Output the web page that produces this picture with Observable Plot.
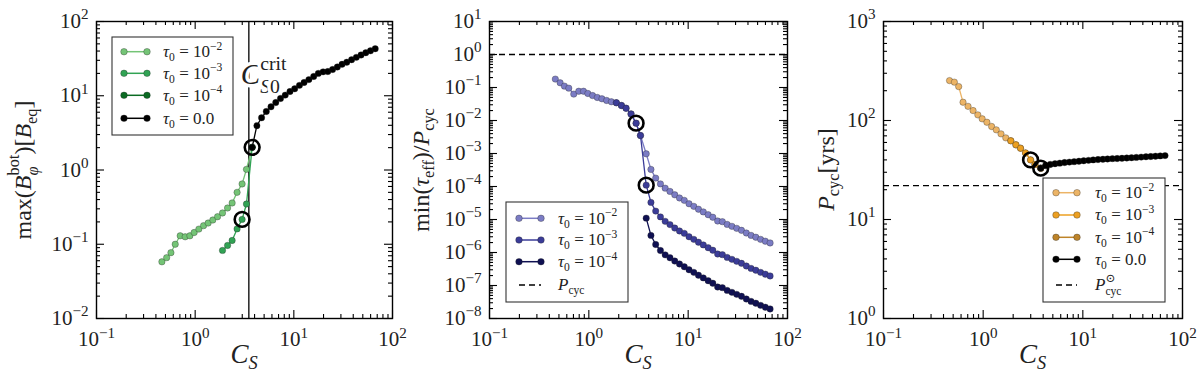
<!DOCTYPE html>
<html><head><meta charset="utf-8">
<script src="https://cdn.jsdelivr.net/npm/d3@7"></script>
<script src="https://cdn.jsdelivr.net/npm/@observablehq/plot@0.6"></script>
<style>
body{margin:0;background:#fff;}
#wrap{position:relative;width:1200px;height:380px;overflow:hidden;background:#fff;}
#wrap svg{position:absolute;top:0;}
text, tspan{white-space:pre;}
</style></head><body><div id="wrap"></div>
<script>
// ---------- data ----------
const cs = [0.46, 0.514, 0.568, 0.628, 0.705, 0.792, 0.884, 0.977, 1.09, 1.216, 1.354, 1.51, 1.686, 1.893, 2.13, 2.37, 2.66, 2.99, 3.31, 3.78,
  4.22, 4.71, 5.26, 5.87, 6.56, 7.33, 8.18, 9.14, 10.2, 11.4, 12.7, 14.2, 15.9, 17.7, 19.8, 22.1, 24.7, 27.6, 30.8, 34.4, 38.5, 43.0, 48.0, 53.6, 59.8, 66.8];
const csCrit = 3.5;
const circled = [17, 19];

// panel 1: max(B_phi^bot) [B_eq]
const bTau2 = [0.058, 0.066, 0.077, 0.100, 0.130, 0.126, 0.130, 0.144, 0.160, 0.178, 0.193, 0.212, 0.235, 0.264, 0.308, 0.360, 0.500, 0.649, 1.02, 2.02];
const bTau3 = [...Array(13).fill(null), 0.0826, 0.0964, 0.1125, 0.161, 0.216, 0.348, 2.02];
const bTau4 = [...Array(19).fill(null), 2.02];
const bTau0 = [...Array(19).fill(null), 2.02, 3.95, 5.05, 6.15, 7.1, 8.1, 9.2, 10.2, 11.4, 12.4, 13.8, 15.1, 16.5, 18.2, 20.0, 21.0, 21.2, 22.6, 24.4, 26.5, 28.3, 30.6, 32.9, 35.4, 38.0, 40.3, 43.0];

// panel 2: min(tau_eff)/P_cyc
const tTau2 = [0.18, 0.139, 0.11, 0.0955, 0.063, 0.077, 0.077, 0.066, 0.057, 0.050, 0.0455, 0.0405, 0.037, 0.0345, 0.0285, 0.0236, 0.0158, 0.0083, 0.0035, 0.00098,
  3.3e-4, 1.8e-4, 1.2e-4, 8.9e-5, 7.1e-5, 5.6e-5, 4.5e-5, 3.8e-5, 3.0e-5, 2.5e-5, 2.05e-5, 1.7e-5, 1.4e-5, 1.17e-5, 9.0e-6, 8.6e-6, 7.1e-6, 6.2e-6, 5.4e-6, 4.7e-6, 3.9e-6, 3.3e-6, 2.9e-6, 2.5e-6, 2.2e-6, 1.95e-6];
const tTau3 = [...Array(13).fill(null), 0.0345, 0.0285, 0.0236, 0.0158, 0.0083, 0.0035, 1.1e-4,
  3.3e-5, 1.8e-5, 1.2e-5, 8.8e-6, 7.0e-6, 5.5e-6, 4.5e-6, 3.8e-6, 3.0e-6, 2.5e-6, 2.05e-6, 1.7e-6, 1.4e-6, 1.17e-6, 9.0e-7, 8.6e-7, 7.1e-7, 6.2e-7, 5.4e-7, 4.7e-7, 3.9e-7, 3.3e-7, 2.9e-7, 2.5e-7, 2.2e-7, 1.95e-7];
const tTau4 = [...Array(19).fill(null), 1.1e-5,
  3.3e-6, 1.75e-6, 1.15e-6, 8.5e-7, 6.9e-7, 5.5e-7, 4.5e-7, 3.7e-7, 3.0e-7, 2.5e-7, 2.05e-7, 1.7e-7, 1.4e-7, 1.17e-7, 9.0e-8, 8.6e-8, 7.1e-8, 6.2e-8, 5.4e-8, 4.7e-8, 3.9e-8, 3.3e-8, 2.9e-8, 2.5e-8, 2.2e-8, 1.95e-8];
const pcycRatio = 1;

// panel 3: P_cyc [yrs]
const pTau2 = [253, 244, 220, 153, 139, 126, 114, 104, 96, 87, 80.5, 73.3, 66.8, 62.4, 56.8, 52.5, 47, 40, 36, 33];
const pTau3 = [...Array(13).fill(null), 62.4, 56.8, 52.5, 47, 40, 36, 33];
const pTau4 = [...Array(19).fill(null), 33];
const pTau0 = [...Array(19).fill(null), 33.0, 35.0, 36.0, 36.6, 37.1, 37.6, 38.0, 38.4, 38.8, 39.2, 39.6, 40.0, 40.3, 40.6, 40.9, 41.2, 41.3, 41.5, 41.8, 42.1, 42.4, 42.7, 43.0, 43.3, 43.6, 43.9, 44.2];
const pcycSun = 22;

const tauExps = ["−2", "−3", "−4"];
const greens = ["#74c476", "#31a354", "#0b6b23"];
const blues = ["#7b7cc4", "#3b3c98", "#0f1052"];
const oranges = ["#ecb466", "#eca022", "#be8429"];

const xMajor = [0.1, 1, 10, 100];
const y1Major = [0.01, 0.1, 1, 10, 100];
const y2Major = [1e-8, 1e-7, 1e-6, 1e-5, 1e-4, 1e-3, 1e-2, 1e-1, 1, 10];
const y3Major = [1, 10, 100, 1000];

// ---------- helpers ----------
const ns = "http://www.w3.org/2000/svg";
const FONT = "'Liberation Serif', 'DejaVu Serif', serif";
const NB = "\u00a0";
const minorOf = maj => { const out = []; for (let i = 0; i < maj.length - 1; i++) for (let k = 2; k <= 9; k++) out.push(maj[i] * k); return out; };
const fmt = d => "10^" + Math.round(Math.log10(d));

function richText(el, segs, fs, supScale = 0.68) {
  el.textContent = "";
  let level = 0, supW = 0, stackW = null;
  segs.forEach(([t, m = ""], idx) => {
    const next = segs[idx + 1];
    const stackedSup = m.includes("u") && next && (next[1] || "").includes("k");
    const small = /[udk]/.test(m);
    let target = 0;
    if (m.includes("u")) target = stackedSup ? -0.5 : -0.42;
    else if (m.includes("k") || (m.includes("d") && stackW !== null)) target = 0.3;
    else if (m.includes("d")) target = 0.24;
    const ts = document.createElementNS(ns, "tspan");
    ts.textContent = t;
    ts.setAttribute("font-size", ((small ? supScale : 1) * fs).toFixed(2));
    ts.setAttribute("font-style", m.includes("i") ? "italic" : "normal");
    const dy = (target - level) * fs;
    if (Math.abs(dy) > 1e-6) ts.setAttribute("dy", dy.toFixed(2));
    level = target;
    let dx = 0;
    if (m.includes("k")) dx = -supW;
    else if (stackW !== null && !m.includes("d")) { dx = Math.max(0, supW - stackW); stackW = null; }
    if (dx !== 0) ts.setAttribute("dx", dx.toFixed(2));
    el.appendChild(ts);
    const w = ts.getComputedTextLength();
    if (m.includes("u")) supW = w;
    if (m.includes("k")) stackW = w;
    else if (m.includes("d") && stackW !== null) stackW += w;
  });
}
// move a text so that its on-screen box is centred on (cx, cy) in svg pixels (null keeps that axis)
function placeCenter(svg, el, cx, cy) {
  const r = el.getBoundingClientRect(), s = svg.getBoundingClientRect();
  const dx = cx == null ? 0 : cx - (r.left + r.width / 2 - s.left);
  const dy = cy == null ? 0 : cy - (r.top + r.height / 2 - s.top);
  el.setAttribute("transform", `translate(${dx.toFixed(2)},${dy.toFixed(2)}) ` + (el.getAttribute("transform") || ""));
}
function replaceText(svg, content, segs, fs, cx, cy) {
  svg.querySelectorAll("text").forEach(t => {
    if (t.textContent === content) { richText(t, segs, fs); if (cx != null || cy != null) placeCenter(svg, t, cx, cy); }
  });
}

function series(ys, color) {
  const data = cs.map((x, i) => ({x, y: ys[i]})).filter(d => d.y != null);
  return [
    Plot.line(data, {x: "x", y: "y", stroke: color, strokeWidth: 1.3}),
    Plot.dot(data, {x: "x", y: "y", r: 3.2, fill: color, stroke: "#222", strokeOpacity: 0.55, strokeWidth: 0.6})
  ];
}
function rings(pts) {
  return Plot.dot(pts, {x: "x", y: "y", r: 7.4, fill: "none", stroke: "black", strokeWidth: 2.6});
}

const FH = 297, MT = 21, MB = 62;
function frameMarks(yMaj, fw) {
  const xMin = minorOf(xMajor), yMin = minorOf(yMaj);
  const o = {strokeWidth: 1.1, stroke: "black"};
  return [
    Plot.ruleX(xMajor, {x: d => d, insetTop: FH - 8, ...o}),
    Plot.ruleX(xMajor, {x: d => d, insetBottom: FH - 8, ...o}),
    Plot.ruleX(xMin, {x: d => d, insetTop: FH - 4, ...o}),
    Plot.ruleX(xMin, {x: d => d, insetBottom: FH - 4, ...o}),
    Plot.ruleY(yMaj, {y: d => d, insetRight: fw - 8, ...o}),
    Plot.ruleY(yMaj, {y: d => d, insetLeft: fw - 8, ...o}),
    Plot.ruleY(yMin, {y: d => d, insetRight: fw - 4, ...o}),
    Plot.ruleY(yMin, {y: d => d, insetLeft: fw - 4, ...o}),
    Plot.axisX({ticks: xMajor, tickSize: 0, tickPadding: 13, tickFormat: fmt, label: null}),
    Plot.axisY({ticks: yMaj, tickSize: 0, tickPadding: 8, tickFormat: fmt, label: null}),
    Plot.frame({stroke: "black", strokeWidth: 1.4})
  ];
}
function titleMarks(ytext) {
  return [
    Plot.text(["XTITLE"], {frameAnchor: "bottom", dy: 44, fontSize: 27, fill: "#222"}),
    Plot.text([ytext], {frameAnchor: "left", dx: -60, rotate: -90, fontSize: 24, fill: "#222"})
  ];
}

const wrap = document.getElementById("wrap");
function mount(plot, left, mL, mR) {
  plot.style.left = left + "px";
  wrap.appendChild(plot);
  const svg = plot.tagName.toLowerCase() === "svg" ? plot : plot.querySelector("svg");
  svg.querySelectorAll("text").forEach(t => {
    const m = t.textContent.match(/^10\^(-?\d+)$/);
    if (m) richText(t, [["10"], [m[1].replace("-", "−"), "u"]], 21, 0.72);
  });
  replaceText(svg, "XTITLE", [["C", "i"], ["S", "di"]], 27, (mL + 400 - mR) / 2, null);
  return svg;
}
function legend(svg, box, rows, sx, tx, items) {
  const g = d3.select(svg).append("g").attr("font-family", FONT).attr("fill", "#222").attr("text-anchor", "start");
  g.append("rect").attr("x", box[0]).attr("y", box[1]).attr("width", box[2]).attr("height", box[3])
    .attr("fill", "white").attr("stroke", "#333").attr("stroke-width", 1.1);
  items.forEach((it, i) => {
    const y = rows[i];
    if (it.dash) {
      g.append("line").attr("x1", sx[0]).attr("x2", sx[1]).attr("y1", y).attr("y2", y)
        .attr("stroke", "black").attr("stroke-width", 1.4).attr("stroke-dasharray", "6,4");
    } else {
      g.append("line").attr("x1", sx[0]).attr("x2", sx[1]).attr("y1", y).attr("y2", y)
        .attr("stroke", it.color).attr("stroke-width", 1.5);
      for (const x of sx) g.append("circle").attr("cx", x).attr("cy", y).attr("r", 3.3)
        .attr("fill", it.color).attr("stroke", "#222").attr("stroke-opacity", 0.55).attr("stroke-width", 0.6);
    }
    const t = g.append("text").attr("x", tx).attr("y", y + 5.2).attr("font-size", 17).attr("text-anchor", "start").node();
    richText(t, it.segs, 17);
  });
}
const tauSegs = e => [["τ", "i"], ["0", "d"], [NB + "=" + NB + "10"], [e, "u"]];
const tau0Segs = [["τ", "i"], ["0", "d"], [NB + "=" + NB + "0.0"]];
const style = {fontFamily: FONT, fontSize: "21px", color: "#222", background: "transparent", overflow: "visible"};
const yMid = MT + FH / 2 + 0.5;

// ---------- panel 1 ----------
{
  const mL = 96, mR = 8, fw = 400 - mL - mR;
  const plot = Plot.plot({
    width: 400, height: 380, marginLeft: mL, marginRight: mR, marginTop: MT, marginBottom: MB, style,
    x: {type: "log", domain: [0.1, 100]},
    y: {type: "log", domain: [0.01, 100]},
    marks: [
      Plot.ruleX([csCrit], {stroke: "black", strokeWidth: 1.3}),
      Plot.text([csCrit], {x: d => d, text: () => "CRITLABEL", frameAnchor: "top", dy: 42, dx: -8, textAnchor: "start", fontSize: 29, fill: "#222", stroke: "white", strokeWidth: 7}),
      ...series(bTau2, greens[0]), ...series(bTau3, greens[1]), ...series(bTau4, greens[2]), ...series(bTau0, "black"),
      rings([{x: cs[circled[0]], y: bTau3[circled[0]]}, {x: cs[circled[1]], y: bTau0[circled[1]]}]),
      ...frameMarks(y1Major, fw),
      ...titleMarks("YTITLE1")
    ]
  });
  const svg = mount(plot, 0, mL, mR);
  replaceText(svg, "YTITLE1", [["max("], ["B", "i"], ["bot", "u"], ["φ", "ki"], [")["], ["B", "i"], ["eq", "d"], ["]"]], 24, 23, yMid);
  replaceText(svg, "CRITLABEL", [["C", "i"], ["crit", "u"], ["S", "ki"], ["0", "d"]], 29);
  legend(svg, [112, 37, 121, 98], [51.7, 73.3, 95.3, 118.3], [124, 147], 163, [
    {color: greens[0], segs: tauSegs(tauExps[0])},
    {color: greens[1], segs: tauSegs(tauExps[1])},
    {color: greens[2], segs: tauSegs(tauExps[2])},
    {color: "black", segs: tau0Segs}
  ]);
}

// ---------- panel 2 ----------
{
  const mL = 89, mR = 13, fw = 400 - mL - mR;
  const plot = Plot.plot({
    width: 400, height: 380, marginLeft: mL, marginRight: mR, marginTop: MT, marginBottom: MB, style,
    x: {type: "log", domain: [0.1, 100]},
    y: {type: "log", domain: [1e-8, 10]},
    marks: [
      Plot.ruleY([pcycRatio], {stroke: "black", strokeWidth: 1.4, strokeDasharray: "6,4"}),
      ...series(tTau2, blues[0]), ...series(tTau3, blues[1]), ...series(tTau4, blues[2]),
      rings([{x: cs[circled[0]], y: tTau2[circled[0]]}, {x: cs[circled[1]], y: tTau3[circled[1]]}]),
      ...frameMarks(y2Major, fw),
      ...titleMarks("YTITLE2")
    ]
  });
  const svg = mount(plot, 400, mL, mR);
  replaceText(svg, "YTITLE2", [["min("], ["τ", "i"], ["eff", "d"], [")/"], ["P", "i"], ["cyc", "d"]], 24, 23, yMid);
  legend(svg, [106, 202, 122, 100], [218.3, 240, 261.7, 285], [119, 141], 158, [
    {color: blues[0], segs: tauSegs(tauExps[0])},
    {color: blues[1], segs: tauSegs(tauExps[1])},
    {color: blues[2], segs: tauSegs(tauExps[2])},
    {dash: true, segs: [["P", "i"], ["cyc", "d"]]}
  ]);
}

// ---------- panel 3 ----------
{
  const mL = 83, mR = 18, fw = 400 - mL - mR;
  const plot = Plot.plot({
    width: 400, height: 380, marginLeft: mL, marginRight: mR, marginTop: MT, marginBottom: MB, style,
    x: {type: "log", domain: [0.1, 100]},
    y: {type: "log", domain: [1, 1000]},
    marks: [
      Plot.ruleY([pcycSun], {stroke: "black", strokeWidth: 1.4, strokeDasharray: "6,4"}),
      ...series(pTau2, oranges[0]), ...series(pTau3, oranges[1]), ...series(pTau4, oranges[2]), ...series(pTau0, "black"),
      rings([{x: cs[circled[0]], y: pTau2[circled[0]]}, {x: cs[circled[1]], y: pTau0[circled[1]]}]),
      ...frameMarks(y3Major, fw),
      ...titleMarks("YTITLE3")
    ]
  });
  const svg = mount(plot, 800, mL, mR);
  replaceText(svg, "YTITLE3", [["P", "i"], ["cyc", "d"], ["[yrs]"]], 24, 28, yMid);
  legend(svg, [243, 178, 122, 124], [192.7, 215, 237.3, 259.3, 285], [256, 277], 295, [
    {color: oranges[0], segs: tauSegs(tauExps[0])},
    {color: oranges[1], segs: tauSegs(tauExps[1])},
    {color: oranges[2], segs: tauSegs(tauExps[2])},
    {color: "black", segs: tau0Segs},
    {dash: true, segs: [["P", "i"], ["⊙", "u"], ["cyc", "k"]]}
  ]);
}
</script></body></html>
